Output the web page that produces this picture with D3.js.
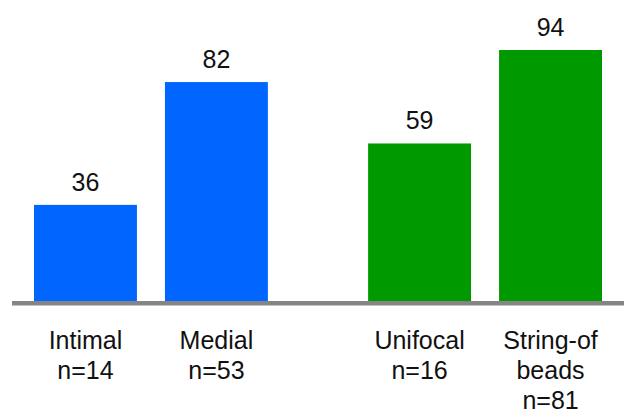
<!DOCTYPE html>
<html>
<head>
<meta charset="utf-8">
<script src="https://cdn.jsdelivr.net/npm/d3@7"></script>
<style>
  body { margin: 0; background: #fff; }
  text { font-family: "Liberation Sans", Arial, sans-serif; fill: #111; }
</style>
</head>
<body>
<div id="chart"></div>
<script>
var groups = ["intimalMedial", "fmd"];
var categories = ["Intimal", "Medial", "Unifocal", "String-of beads"];
var catGroup = ["intimalMedial", "intimalMedial", "fmd", "fmd"];
var catLines = [["Intimal"], ["Medial"], ["Unifocal"], ["String-of", "beads"]];
var nLabels = ["n=14", "n=53", "n=16", "n=81"];
var values = [36, 82, 59, 94];
var groupColors = {"intimalMedial": "#0066ff", "fmd": "#009900"};

var width = 624, height = 409;

var svg = d3.select("#chart").append("svg")
    .attr("width", width)
    .attr("height", height);

var rows = categories.map(function(c, i) {
    return {cat: c, group: catGroup[i], value: values[i], lines: catLines[i].concat([nLabels[i]])};
});

// outer scale places the two groups, inner scale places bars within a group
var x0 = d3.scaleBand()
    .domain(groups)
    .range([34, 602])
    .paddingInner(0.3);

var x1 = d3.scaleBand()
    .domain([0, 1])
    .range([0, x0.bandwidth()])
    .paddingInner(0.214);

var y = d3.scaleLinear()
    .domain([0, 100])
    .range([301, 34]);

function barX(d) {
    var idx = rows.filter(function(r) { return r.group == d.group; }).indexOf(d);
    return x0(d.group) + x1(idx);
}

svg.selectAll(".bar")
    .data(rows)
.enter().append("rect")
    .attr("class", "bar")
    .attr("x", barX)
    .attr("y", function(d) { return y(d.value); })
    .attr("width", x1.bandwidth())
    .attr("height", function(d) { return y(0) - y(d.value); })
    .attr("fill", function(d) { return groupColors[d.group]; });

// baseline
svg.append("rect")
    .attr("x", 12)
    .attr("y", y(0))
    .attr("width", width - 12)
    .attr("height", 4.5)
    .attr("fill", "#858585");

svg.selectAll(".value")
    .data(rows)
.enter().append("text")
    .attr("class", "value")
    .attr("x", function(d) { return barX(d) + x1.bandwidth() / 2; })
    .attr("y", function(d) { return y(d.value) - 14; })
    .attr("text-anchor", "middle")
    .attr("font-size", 25)
    .text(function(d) { return d.value; });

var labels = svg.selectAll(".label")
    .data(rows)
.enter().append("text")
    .attr("class", "label")
    .attr("text-anchor", "middle")
    .attr("font-size", 25);

labels.selectAll("tspan")
    .data(function(d) { return d.lines.map(function(l) { return {text: l, cx: barX(d) + x1.bandwidth() / 2}; }); })
.enter().append("tspan")
    .attr("x", function(d) { return d.cx; })
    .attr("y", function(d, i) { return 349 + i * 30; })
    .text(function(d) { return d.text; });
</script>
</body>
</html>
